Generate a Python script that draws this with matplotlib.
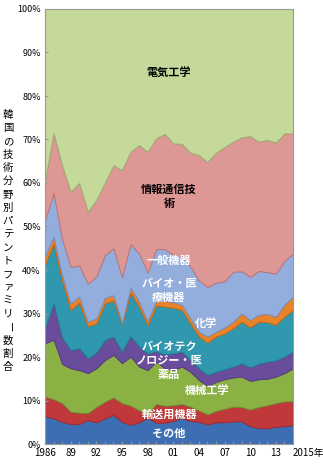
import matplotlib.pyplot as plt
from matplotlib.ticker import FixedLocator, MultipleLocator

plt.rcParams['font.family'] = ['Noto Sans CJK JP', 'DejaVu Sans']

# 技術分野別シェア(%) 1986-2015
years = list(range(1986, 2016))
sonota = [6.4, 5.9, 5.1, 4.6, 4.6, 5.5, 5.0, 5.9, 6.7, 5.1, 4.4, 5.0, 6.0, 4.9, 4.9,
          5.3, 6.0, 5.3, 5.1, 4.5, 5.0, 5.0, 5.2, 5.2, 4.1, 3.7, 3.6, 4.0, 4.1, 4.4]
yuso = [4.5, 4.4, 4.3, 2.8, 2.6, 1.6, 3.5, 3.8, 4.0, 4.3, 4.4, 2.8, 0.9, 4.3, 3.9,
        3.6, 3.2, 3.3, 2.6, 2.3, 2.6, 3.1, 3.4, 3.3, 3.8, 4.8, 5.3, 5.4, 5.7, 5.4]
kikai = [12.2, 13.7, 9.0, 10.0, 9.8, 9.2, 8.9, 9.6, 9.8, 9.2, 11.3, 10.0, 10.1, 9.7, 8.6,
         8.1, 8.6, 8.0, 7.0, 6.6, 6.7, 6.8, 6.7, 7.0, 6.6, 6.4, 6.1, 6.1, 6.5, 7.6]
bio_iyaku = [3.5, 8.4, 6.1, 4.2, 5.0, 3.4, 3.6, 4.6, 4.2, 2.6, 4.7, 4.6, 3.8, 2.4, 3.2,
             3.8, 3.4, 2.7, 2.7, 2.5, 2.3, 2.3, 2.5, 3.0, 3.1, 3.6, 3.9, 3.7, 3.8, 3.8]
kagaku = [14.7, 13.6, 13.0, 9.2, 10.5, 7.4, 6.7, 8.4, 8.3, 6.3, 10.0, 9.1, 6.5, 10.5, 11.0,
          10.5, 9.6, 8.4, 7.3, 7.4, 8.1, 8.2, 8.8, 9.6, 9.2, 9.6, 9.1, 8.2, 9.2, 9.6]
bio_iryo = [1.9, 1.7, 1.2, 1.5, 1.4, 1.0, 1.2, 1.3, 1.2, 0.3, 1.2, 1.2, 1.0, 1.1, 1.3,
            1.3, 1.2, 1.2, 1.1, 1.4, 1.1, 1.4, 1.5, 1.9, 1.7, 1.6, 1.9, 1.9, 2.7, 3.1]
ippan = [8.3, 10.0, 8.4, 8.4, 7.1, 8.8, 9.6, 9.8, 10.8, 10.6, 10.0, 11.1, 11.1, 11.9, 11.9,
         10.9, 11.2, 11.9, 11.8, 11.4, 11.3, 10.6, 11.5, 9.7, 9.9, 10.1, 9.6, 9.9, 10.1, 9.9]
joho = [9.2, 13.8, 17.0, 17.3, 19.0, 16.5, 17.6, 16.7, 19.1, 24.6, 21.2, 24.9, 27.8, 25.5, 26.5,
        25.6, 25.8, 26.2, 28.8, 28.7, 29.9, 30.9, 29.9, 30.8, 32.4, 29.7, 30.4, 30.1, 29.3, 27.6]
denki = [39.3, 28.5, 35.9, 42.0, 40.0, 46.6, 43.9, 39.9, 35.9, 37.0, 32.8, 31.3, 32.8, 29.7, 28.7,
         30.9, 31.0, 33.0, 33.6, 35.2, 33.0, 31.7, 30.5, 29.5, 29.2, 30.5, 30.1, 30.7, 28.6, 28.6]

xtick_years = [1986, 1989, 1992, 1995, 1998, 2001, 2004, 2007, 2010, 2013, 2015]
xtick_labels = ['1986', '89', '92', '95', '98', '01', '04', '07', '10', '13', '2015年']
ytick_vals = list(range(0, 101, 10))
ylabel = '韓国の技術分野別パテントファミリー数割合'

layers = [sonota, yuso, kikai, bio_iyaku, kagaku, bio_iryo, ippan, joho, denki]
fills = ['#3d6eb4', '#c0383a', '#8bb043', '#6a4c9c', '#2f98ae',
         '#e8832a', '#93aedc', '#dd9896', '#c4d99a']
edges = ['#2f5a96', '#a02a2c', '#6f9230', '#553a82', '#237c90',
         '#c86a18', '#7890c0', '#c07474', '#9ab470']

fig = plt.figure(figsize=(3.23, 4.69), dpi=100)
ax = fig.add_axes([45 / 323, 25 / 469, 248 / 323, 435 / 469])

polys = ax.stackplot(years, layers, colors=fills)
for p, ec in zip(polys, edges):
    p.set_edgecolor(ec)
    p.set_linewidth(0.7)

ax.set_xlim(1986, 2015)
ax.set_ylim(0, 100)

ax.yaxis.set_major_locator(FixedLocator(ytick_vals))
ax.set_yticklabels(['%d%%' % v for v in ytick_vals])
ax.xaxis.set_major_locator(FixedLocator(xtick_years))
ax.set_xticklabels(xtick_labels)
ax.xaxis.set_minor_locator(MultipleLocator(1))
ax.tick_params(axis='both', which='both', direction='in', length=2.5,
               color='#999999', labelsize=6.5, pad=3)
ax.tick_params(axis='x', labelsize=7)
last = ax.get_xticklabels()[-1]
last.set_horizontalalignment('left')
last.set_x(2014.45)
for s in ax.spines.values():
    s.set_color('#999999')
    s.set_linewidth(0.8)

# 分野名
lab = dict(ha='center', va='center', fontsize=8, fontweight='bold', linespacing=1.1)
ax.text(2000.5, 85.1, '電気工学', color='black', **lab)
ax.text(2000.5, 57.0, '情報通信技\n術', color='black', **lab)
ax.text(2000.5, 42.3, '一般機器', color='white', **lab)
ax.text(2000.5, 35.2, 'バイオ・医\n療機器', color='white', **lab)
ax.text(2004.8, 27.8, '化学', color='white', **lab)
ax.text(2000.5, 19.3, 'バイオテク\nノロジー・医\n薬品', color='white', **lab)
ax.text(2004.9, 12.4, '機械工学', color='white', **lab)
ax.text(2000.5, 6.9, '輸送用機器', color='white', **lab)
ax.text(2000.5, 2.5, 'その他', color='white', **lab)

# 縦書きの軸ラベル
n = len(ylabel)
for i, ch in enumerate(ylabel):
    py = 115 + i * (367 - 115) / (n - 1)
    fig.text(8 / 323, 1 - py / 469, ch, ha='center', va='center', fontsize=7.5,
             rotation=-90 if ch == 'ー' else 0)

fig.savefig('out.png', dpi=100)
